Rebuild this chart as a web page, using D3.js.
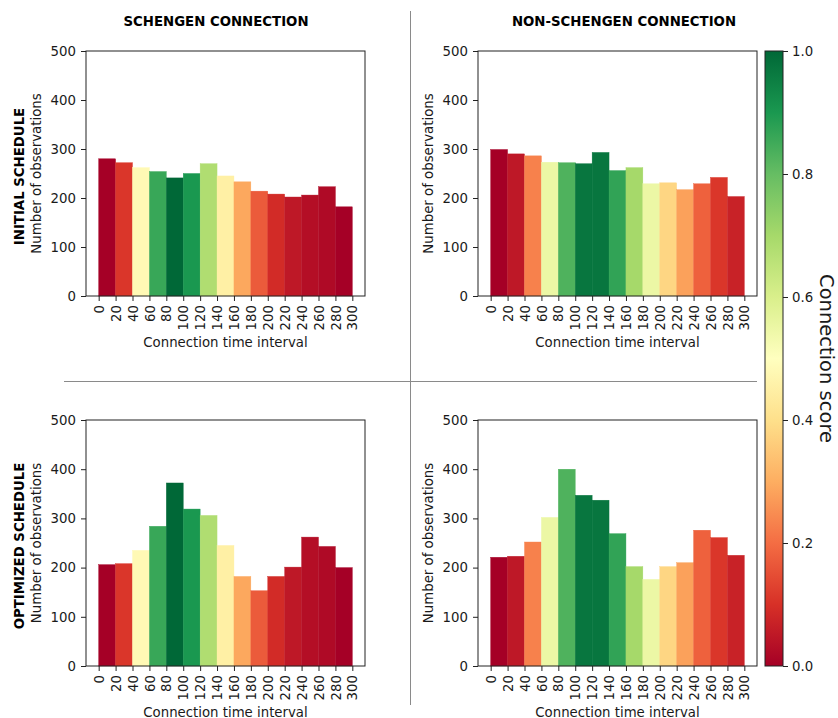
<!DOCTYPE html>
<html>
<head>
<meta charset="utf-8">
<script src="https://cdn.jsdelivr.net/npm/d3@7/dist/d3.min.js"></script>
<style>
  body { margin: 0; background: #fff; }
  svg { display: block; font-family: "DejaVu Sans", sans-serif; }
</style>
</head>
<body>
<svg id="chart" width="838" height="718"></svg>
<script>
// connection time bins (start of each 20 min bin) and tick labels
const binStarts = [0, 20, 40, 60, 80, 100, 120, 140, 160, 180, 200, 220, 240, 260, 280];
const xTicks = [0, 20, 40, 60, 80, 100, 120, 140, 160, 180, 200, 220, 240, 260, 280, 300];
const yTicks = [0, 100, 200, 300, 400, 500];
const scoreTicks = [0, 0.2, 0.4, 0.6, 0.8, 1.0];

// connection score per bin (colour of bars), per connection type
const schengenScores = [0.0, 0.11, 0.48, 0.86, 1.0, 0.9, 0.68, 0.45, 0.29, 0.17, 0.09, 0.05, 0.03, 0.02, 0.0];
const nonSchengenScores = [0.0, 0.05, 0.23, 0.55, 0.83, 0.97, 0.97, 0.87, 0.7, 0.55, 0.38, 0.28, 0.18, 0.11, 0.07];

// number of observations per bin
const initialSchengen = [280, 272, 262, 254, 241, 250, 270, 245, 233, 214, 208, 202, 206, 223, 182];
const initialNonSchengen = [299, 290, 286, 273, 272, 270, 293, 256, 262, 229, 231, 217, 229, 242, 203];
const optimizedSchengen = [206, 208, 235, 284, 372, 319, 306, 245, 182, 153, 182, 201, 262, 243, 200];
const optimizedNonSchengen = [221, 223, 252, 302, 400, 347, 337, 269, 202, 176, 202, 210, 276, 261, 225];

const colTitles = ['SCHENGEN CONNECTION', 'NON-SCHENGEN CONNECTION'];
const rowTitles = ['INITIAL SCHEDULE', 'OPTIMIZED SCHEDULE'];

// matplotlib RdYlGn anchors
const rdylgn = d3.scaleLinear()
  .domain([0, 0.1, 0.2, 0.3, 0.4, 0.5, 0.6, 0.7, 0.8, 0.9, 1])
  .range(['#a50026', '#d73027', '#f46d43', '#fdae61', '#fee08b', '#ffffbf',
          '#d9ef8b', '#a6d96a', '#66bd63', '#1a9850', '#006837'])
  .interpolate(d3.interpolateRgb);

const svg = d3.select('#chart');
const colX = [[86, 365], [478, 757]];
const rowY = [[51, 296], [420, 666]];
const TEXT = '#1a1a1a';
const FS = 13.3;

const panels = [
  { row: 0, col: 0, values: initialSchengen, scores: schengenScores },
  { row: 0, col: 1, values: initialNonSchengen, scores: nonSchengenScores },
  { row: 1, col: 0, values: optimizedSchengen, scores: schengenScores },
  { row: 1, col: 1, values: optimizedNonSchengen, scores: nonSchengenScores }
];

panels.forEach((p) => {
  const [x0, x1] = colX[p.col];
  const [y0, y1] = rowY[p.row];
  const x = d3.scaleLinear().domain([-15, 315]).range([x0, x1]);
  const y = d3.scaleLinear().domain([0, 500]).range([y1, y0]);
  const g = svg.append('g');

  g.append('g')
    .selectAll('rect')
    .data(p.values)
    .join('rect')
    .attr('x', (d, i) => x(binStarts[i]))
    .attr('width', (d, i) => x(binStarts[i] + 20) - x(binStarts[i]))
    .attr('y', (d) => y(d))
    .attr('height', (d) => y(0) - y(d))
    .attr('fill', (d, i) => rdylgn(p.scores[i]))
    .attr('stroke', (d, i) => rdylgn(p.scores[i]))
    .attr('stroke-width', 0.4);

  // frame
  g.append('rect')
    .attr('x', x0).attr('y', y0)
    .attr('width', x1 - x0).attr('height', y1 - y0)
    .attr('fill', 'none')
    .attr('stroke', '#222')
    .attr('stroke-width', 1);

  const yAxis = g.append('g')
    .attr('transform', `translate(${x0},0)`)
    .call(d3.axisLeft(y).tickValues(yTicks).tickSize(5).tickPadding(5).tickFormat(d3.format('d')));
  yAxis.select('.domain').remove();
  yAxis.selectAll('line').attr('stroke', '#222');
  yAxis.selectAll('text').attr('font-size', FS).attr('fill', TEXT).attr('font-family', '"DejaVu Sans", sans-serif');

  const xAxis = g.append('g')
    .attr('transform', `translate(0,${y1})`)
    .call(d3.axisBottom(x).tickValues(xTicks).tickSize(5).tickFormat(d3.format('d')));
  xAxis.select('.domain').remove();
  xAxis.selectAll('line').attr('stroke', '#222');
  xAxis.selectAll('text')
    .attr('font-size', FS).attr('fill', TEXT).attr('font-family', '"DejaVu Sans", sans-serif')
    .attr('transform', 'rotate(-90)')
    .attr('text-anchor', 'end')
    .attr('x', -9)
    .attr('y', 0)
    .attr('dy', '0.35em');

  g.append('text')
    .attr('x', (x0 + x1) / 2)
    .attr('y', y1 + 51)
    .attr('text-anchor', 'middle')
    .attr('font-size', FS)
    .attr('fill', TEXT)
    .text('Connection time interval');

  const yLabelX = x0 - 45;
  g.append('text')
    .attr('transform', `translate(${yLabelX},${(y0 + y1) / 2}) rotate(-90)`)
    .attr('text-anchor', 'middle')
    .attr('font-size', FS)
    .attr('fill', TEXT)
    .text('Number of observations');

  if (p.col === 0) {
    g.append('text')
      .attr('transform', `translate(24,${(y0 + y1) / 2 + 3}) rotate(-90)`)
      .attr('text-anchor', 'middle')
      .attr('font-size', FS)
      .attr('font-weight', 'bold')
      .attr('fill', '#000')
      .text(rowTitles[p.row]);
  }
});

// column titles
colTitles.forEach((t, i) => {
  svg.append('text')
    .attr('x', i === 0 ? 216 : 624)
    .attr('y', 26)
    .attr('text-anchor', 'middle')
    .attr('font-size', FS)
    .attr('font-weight', 'bold')
    .attr('fill', '#000')
    .text(t);
});

// divider lines
svg.append('line')
  .attr('x1', 410.5).attr('x2', 410.5).attr('y1', 11).attr('y2', 705)
  .attr('stroke', '#8a8a8a').attr('stroke-width', 1);
svg.append('line')
  .attr('x1', 64).attr('x2', 757).attr('y1', 381.5).attr('y2', 381.5)
  .attr('stroke', '#8a8a8a').attr('stroke-width', 1);

// colour bar
const cb = { x: 765, w: 18, top: 51, bottom: 666 };
const cbScale = d3.scaleLinear().domain([0, 1]).range([cb.bottom, cb.top]);
const grad = svg.append('defs').append('linearGradient')
  .attr('id', 'cbgrad')
  .attr('x1', 0).attr('y1', 1).attr('x2', 0).attr('y2', 0);
grad.selectAll('stop')
  .data(rdylgn.domain())
  .join('stop')
  .attr('offset', (d) => d)
  .attr('stop-color', (d) => rdylgn(d));

svg.append('rect')
  .attr('x', cb.x).attr('y', cb.top)
  .attr('width', cb.w).attr('height', cb.bottom - cb.top)
  .attr('fill', 'url(#cbgrad)')
  .attr('stroke', '#222')
  .attr('stroke-width', 1);

const cbAxis = svg.append('g')
  .attr('transform', `translate(${cb.x + cb.w},0)`)
  .call(d3.axisRight(cbScale).tickValues(scoreTicks).tickSize(5).tickPadding(4).tickFormat(d3.format('.1f')));
cbAxis.select('.domain').remove();
cbAxis.selectAll('line').attr('stroke', '#222');
cbAxis.selectAll('text').attr('font-size', FS).attr('fill', TEXT).attr('font-family', '"DejaVu Sans", sans-serif');

svg.append('text')
  .attr('transform', `translate(820,${(cb.top + cb.bottom) / 2}) rotate(90)`)
  .attr('text-anchor', 'middle')
  .attr('font-size', 19.5)
  .attr('fill', TEXT)
  .text('Connection score');
</script>
</body>
</html>
